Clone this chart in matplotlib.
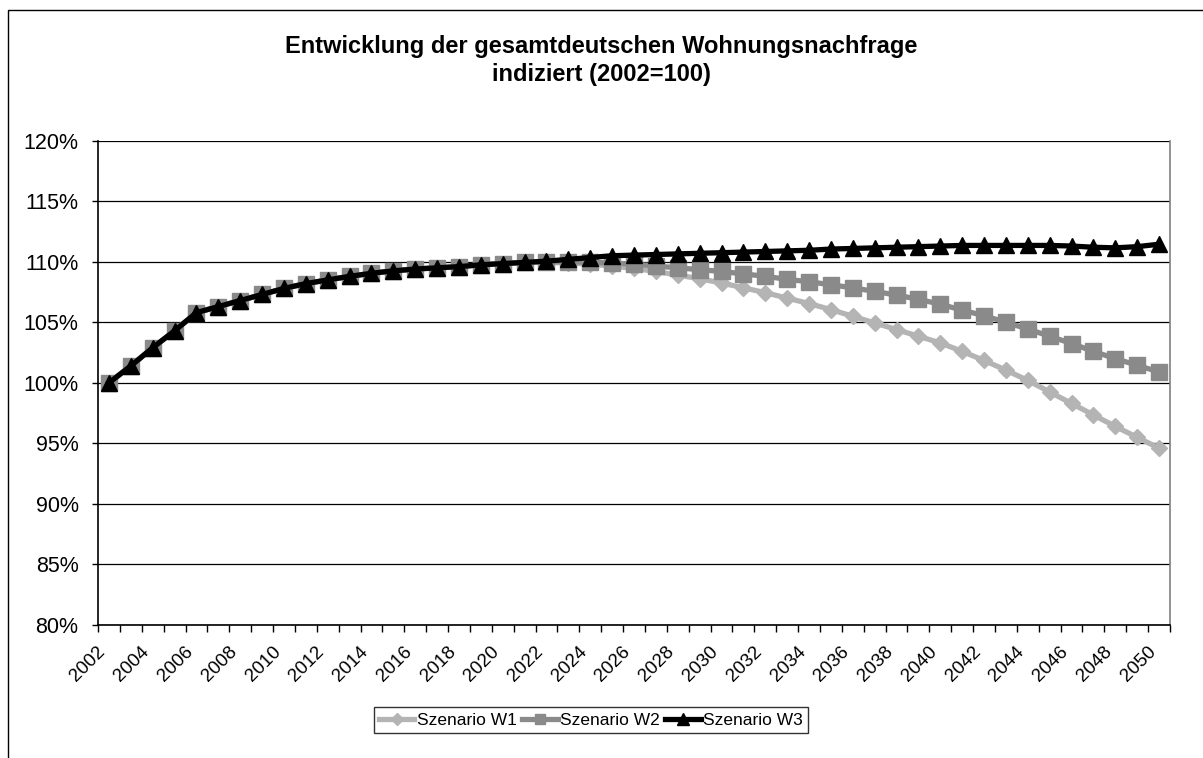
import matplotlib
matplotlib.use("Agg")
import matplotlib.pyplot as plt
from matplotlib.patches import Rectangle
from matplotlib.ticker import FuncFormatter
from matplotlib.transforms import ScaledTranslation
import numpy as np

plt.rcParams['font.family'] = ['Liberation Sans', 'DejaVu Sans']

years = list(range(2002, 2051))

common = [100.0, 101.4, 102.9, 104.3, 105.8, 106.3, 106.8, 107.3, 107.8, 108.2,
          108.5, 108.8, 109.05, 109.25, 109.4, 109.5, 109.6, 109.75, 109.85, 109.95]

w1 = common + [109.95, 109.9, 109.8, 109.65, 109.45, 109.2, 108.9, 108.6, 108.25,
               107.85, 107.45, 107.0, 106.55, 106.05, 105.5, 104.95, 104.4, 103.85,
               103.3, 102.6, 101.85, 101.05, 100.2, 99.25, 98.3, 97.35, 96.4, 95.5, 94.6]
w2 = common + [110.0, 110.0, 109.95, 109.9, 109.8, 109.65, 109.5, 109.35, 109.2,
               109.0, 108.8, 108.55, 108.35, 108.1, 107.85, 107.55, 107.25, 106.9,
               106.5, 106.0, 105.55, 105.0, 104.45, 103.85, 103.25, 102.6, 102.0, 101.45, 100.9]
w3 = common + [110.05, 110.2, 110.35, 110.5, 110.55, 110.6, 110.65, 110.7, 110.75,
               110.8, 110.85, 110.9, 110.95, 111.05, 111.1, 111.15, 111.2, 111.25,
               111.3, 111.35, 111.35, 111.35, 111.35, 111.35, 111.3, 111.2, 111.15, 111.25, 111.45]

series_names = ["Szenario W1", "Szenario W2", "Szenario W3"]
title_lines = ["Entwicklung der gesamtdeutschen Wohnungsnachfrage", "indiziert (2002=100)"]
y_ticks = [80, 85, 90, 95, 100, 105, 110, 115, 120]

W, H = 1203, 758
fig = plt.figure(figsize=(W / 100, H / 100), dpi=100)
fig.patch.set_facecolor('white')

# chart area frame (extends past right/bottom edge)
fig.add_artist(Rectangle((8 / W, -0.05), 1.2, 1 - 10 / H + 0.05, transform=fig.transFigure,
                         fill=False, edgecolor='black', linewidth=1.0))

ax = fig.add_axes([98 / W, 1 - 625 / H, (1170 - 98) / W, (625 - 140.7) / H])

x = np.arange(len(years))
ax.plot(x, w1, color='#b4b4b4', lw=3.8, marker='D', ms=8.5, mec='#b4b4b4', mfc='#b4b4b4',
        label=series_names[0], zorder=3)
ax.plot(x, w2, color='#8a8a8a', lw=3.8, marker='s', ms=11, mec='#8a8a8a', mfc='#8a8a8a',
        label=series_names[1], zorder=4)
ax.plot(x, w3, color='black', lw=3.8, marker='^', ms=12, mec='black', mfc='black',
        label=series_names[2], zorder=5)

ax.set_xlim(-0.5, len(years) - 0.5)
ax.set_ylim(80, 120)
ax.set_yticks(y_ticks)
ax.yaxis.set_major_formatter(FuncFormatter(lambda v, p: f"{int(round(v))}%"))
ax.grid(axis='y', color='black', lw=0.9, zorder=1)
ax.set_axisbelow(True)

ax.tick_params(axis='x', which='major', direction='out', length=5, width=1, color='black')
ax.tick_params(axis='x', which='minor', length=0, pad=9)
ax.tick_params(axis='y', direction='out', length=4, width=1, labelsize=15.5, pad=10)

# ticks between categories, labels on every second category
ax.set_xticks(np.arange(-0.5, len(years), 1.0))
ax.set_xticklabels([])
ax.set_xticks(x[::2], minor=True)
ax.set_xticklabels([str(y) for y in years[::2]], minor=True, rotation=45,
                   ha='right', va='top', rotation_mode='anchor', fontsize=13.5)
shift = ScaledTranslation(-12 / 100, -6 / 100, fig.dpi_scale_trans)
for lbl in ax.get_xticklabels(minor=True):
    lbl.set_transform(lbl.get_transform() + shift)

ax.spines['top'].set_visible(False)
ax.spines['right'].set_color('#808080')
ax.spines['right'].set_linewidth(1.2)
ax.spines['left'].set_color('black')
ax.spines['bottom'].set_color('black')
ax.spines['left'].set_linewidth(1.2)
ax.spines['bottom'].set_linewidth(1.2)

fig.text(601 / W, 1 - 47 / H, title_lines[0], ha='center', va='center',
         fontsize=17, fontweight='bold')
fig.text(601 / W, 1 - 74 / H, title_lines[1], ha='center', va='center',
         fontsize=17, fontweight='bold')

leg = fig.legend(loc='center', bbox_to_anchor=(591 / W, 1 - 720 / H), ncol=3,
                 frameon=True, fancybox=False, fontsize=12.5, handlelength=2.05,
                 handletextpad=0.15, columnspacing=0.3, borderpad=0.3,
                 markerscale=0.7, borderaxespad=0)
leg.get_frame().set_edgecolor('black')
leg.get_frame().set_linewidth(1.0)

fig.savefig('out.png', dpi=100, facecolor='white')
